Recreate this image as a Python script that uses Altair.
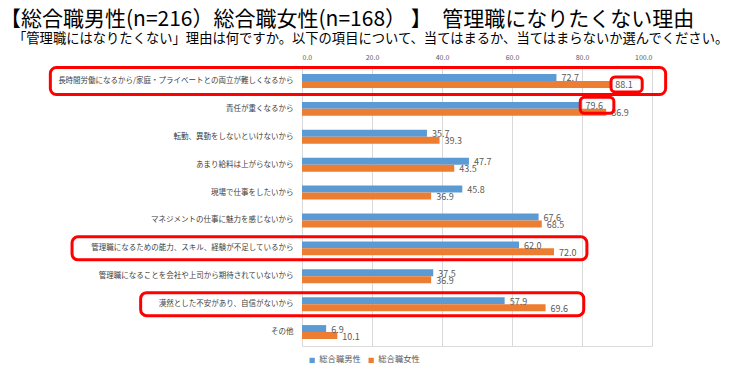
import altair as alt
import pandas as pd

FONT = "Noto Sans CJK JP"

title_text = "【総合職男性(n=216）総合職女性(n=168） 】　管理職になりたくない理由"
subtitle_text = "「管理職にはなりたくない」理由は何ですか。以下の項目について、当てはまるか、当てはまらないか選んでください。"

categories = [
    "長時間労働になるから/家庭・プライベートとの両立が難しくなるから",
    "責任が重くなるから",
    "転勤、異動をしないといけないから",
    "あまり給料は上がらないから",
    "現場で仕事をしたいから",
    "マネジメントの仕事に魅力を感じないから",
    "管理職になるための能力、スキル、経験が不足しているから",
    "管理職になることを会社や上司から期待されていないから",
    "漠然とした不安があり、自信がないから",
    "その他",
]
series = ["総合職男性", "総合職女性"]
male = [72.7, 79.6, 35.7, 47.7, 45.8, 67.6, 62.0, 37.5, 57.9, 6.9]
female = [88.1, 86.9, 39.3, 43.5, 36.9, 68.5, 72.0, 36.9, 69.6, 10.1]
colors = ["#5B9BD5", "#ED7D31"]
x_ticks = [0, 10, 20, 30, 40, 50, 60, 70, 80, 90, 100]

# highlight boxes around whole rows (category, x start, x end, thickness)
row_box_cat = [categories[0], categories[6], categories[8]]
row_box_x1 = [-71.9, -65.7, -46.1]
row_box_x2 = [103.9, 81.4, 80.5]
row_box_h = [27, 23, 23]

# highlight boxes around single value labels
lbl_box_cat = [categories[0], categories[1]]
lbl_box_series = ["総合職女性", "総合職男性"]
lbl_box_x1 = [88.3, 79.5]
lbl_box_x2 = [97.2, 89.1]
lbl_box_h = [15, 16]

rows = []
for c, m, f in zip(categories, male, female):
    rows.append({"cat": c, "series": series[0], "value": m})
    rows.append({"cat": c, "series": series[1], "value": f})
df = pd.DataFrame(rows)

row_boxes = pd.DataFrame({"cat": row_box_cat, "x1": row_box_x1, "x2": row_box_x2, "h": row_box_h})
lbl_boxes = pd.DataFrame({"cat": lbl_box_cat, "series": lbl_box_series, "x1": lbl_box_x1,
                          "x2": lbl_box_x2, "h": lbl_box_h})

y_enc = alt.Y("cat:N", sort=categories, scale=alt.Scale(domain=categories, paddingInner=0.5, paddingOuter=0.25),
              axis=alt.Axis(title=None, ticks=False, domain=False, labelFontSize=7.5, labelColor="#404040",
                            labelPadding=9, labelLimit=500, labelFont=FONT, grid=False))
x_scale = alt.Scale(domain=[0, 100], nice=False, zero=True)
x_axis = alt.Axis(title=None, orient="top", values=x_ticks, format=".1f", ticks=False, domain=False,
                  labelFontSize=7, labelColor="#595959", labelPadding=7, gridColor="#D9D9D9",
                  labelFont=FONT)
yoff = alt.YOffset("series:N", sort=series, scale=alt.Scale(domain=series, paddingInner=0, paddingOuter=0))

bars = alt.Chart(df).mark_bar().encode(
    x=alt.X("value:Q", scale=x_scale, axis=x_axis),
    y=y_enc,
    yOffset=yoff,
    color=alt.Color("series:N", sort=series, scale=alt.Scale(domain=series, range=colors),
                    legend=alt.Legend(title=None, orient="none", legendX=6, legendY=289, direction="horizontal",
                                      symbolType="square", symbolSize=28, labelFontSize=8.3, labelColor="#595959",
                                      labelFont=FONT, columnPadding=6, labelOffset=3, symbolStrokeWidth=0)),
)

labels = alt.Chart(df).mark_text(align="left", baseline="middle", dx=5, dy=1, fontSize=9,
                                 color="#595959", font=FONT).encode(
    x=alt.X("value:Q", scale=x_scale),
    y=alt.Y("cat:N", sort=categories),
    yOffset=alt.YOffset("series:N", sort=series),
    text=alt.Text("value:Q", format=".1f"),
)

big_boxes = alt.Chart(row_boxes).mark_bar(filled=False, stroke="#FF0000", strokeWidth=3, cornerRadius=6).encode(
    x=alt.X("x1:Q", scale=x_scale),
    x2="x2:Q",
    y=alt.Y("cat:N", sort=categories),
    size=alt.Size("h:Q", scale=None, legend=None),
)

small_boxes = alt.Chart(lbl_boxes).mark_bar(filled=False, stroke="#FF0000", strokeWidth=3, cornerRadius=4).encode(
    x=alt.X("x1:Q", scale=x_scale),
    x2="x2:Q",
    y=alt.Y("cat:N", sort=categories),
    yOffset=alt.YOffset("series:N", sort=series),
    size=alt.Size("h:Q", scale=None, legend=None),
)

title_df = pd.DataFrame({"t": [title_text]})
sub_df = pd.DataFrame({"t": [subtitle_text]})
title_mark = alt.Chart(title_df).mark_text(align="left", baseline="middle", fontSize=21, font=FONT,
                                           color="#000000").encode(
    x=alt.value(-302), y=alt.value(-47), text="t:N")
sub_mark = alt.Chart(sub_df).mark_text(align="left", baseline="middle", fontSize=13.3, font=FONT,
                                       color="#000000").encode(
    x=alt.value(-289), y=alt.value(-28), text="t:N")

chart = alt.layer(bars, labels, big_boxes, small_boxes, title_mark, sub_mark).properties(
    width=350, height=279,
    autosize=alt.AutoSizeParams(type="none"),
    padding={"left": 294, "top": 59, "right": 87, "bottom": 22},
).configure_view(stroke=None).configure(background="white")

chart.save("out.html", embed_options={"renderer": "svg", "actions": False})
